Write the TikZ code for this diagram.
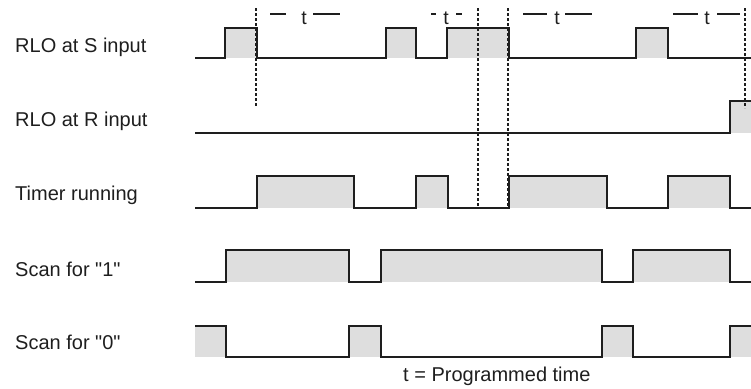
\documentclass[tikz,border=0pt]{standalone}
\usepackage{fontspec}
\setmainfont{Liberation Sans}[Ligatures=TeXOff]
\definecolor{sig}{HTML}{1E1E1E}
\definecolor{shade}{HTML}{DEDEDE}
\begin{document}
\begin{tikzpicture}[x=1pt,y=-1pt,
  wave/.style={draw=sig,line width=1.3pt,line join=miter},
  hi/.style={fill=shade,draw=none},
  guide/.style={draw=sig,line width=1.1pt,dash pattern=on 3pt off 2pt},
  lbl/.style={anchor=base west,inner sep=0pt,font=\fontsize{20}{24}\selectfont,text=sig},
  tlbl/.style={anchor=base,inner sep=0pt,font=\fontsize{19.5}{22}\selectfont,text=sig},
  tdash/.style={draw=sig,line width=1.2pt}]
\useasboundingbox (0,0) rectangle (751,388);
% labels
\node[lbl] (lS) at (15,52) {RLO at S input};
\node[lbl] (lR) at (15,126) {RLO at R input};
\node[lbl] (lT) at (15,200) {Timer running};
\node[lbl] (l1) at (15,276) {Scan for "1"};
\node[lbl] (l0) at (15,349) {Scan for "0"};
\node[lbl] (lt) at (403,381) {t = Programmed time};
% shading
\foreach \a/\b in {225/257,386/416,447/509,636/668} \path[hi] (\a,58) rectangle (\b,28);
\path[hi] (730,133) rectangle (751,101);
\foreach \a/\b in {257/354,416/448,509/607,668/730} \path[hi] (\a,208) rectangle (\b,176);
\foreach \a/\b in {226/349,381/602,633/730} \path[hi] (\a,282) rectangle (\b,250);
\foreach \a/\b in {195/226,349/381,602/633,730/751} \path[hi] (\a,357) rectangle (\b,326);
% guides
\draw[guide] (256,8) -- (256,107);
\draw[guide] (478,8) -- (478,208);
\draw[guide] (508,8) -- (508,208);
\draw[guide] (745,8) -- (745,108);
% waves
\draw[wave] (195,58) -- (225,58) -- (225,28) -- (257,28) -- (257,58) -- (386,58) -- (386,28) -- (416,28) -- (416,58) -- (447,58) -- (447,28) -- (509,28) -- (509,58) -- (636,58) -- (636,28) -- (668,28) -- (668,58) -- (751,58);
\draw[wave] (195,133) -- (730,133) -- (730,101) -- (751,101);
\draw[wave] (195,208) -- (257,208) -- (257,176) -- (354,176) -- (354,208) -- (416,208) -- (416,176) -- (448,176) -- (448,208) -- (509,208) -- (509,176) -- (607,176) -- (607,208) -- (668,208) -- (668,176) -- (730,176) -- (730,208) -- (751,208);
\draw[wave] (195,282) -- (226,282) -- (226,250) -- (349,250) -- (349,282) -- (381,282) -- (381,250) -- (602,250) -- (602,282) -- (633,282) -- (633,250) -- (730,250) -- (730,282) -- (751,282);
\draw[wave] (195,326) -- (226,326) -- (226,357) -- (349,357) -- (349,326) -- (381,326) -- (381,357) -- (602,357) -- (602,326) -- (633,326) -- (633,357) -- (730,357) -- (730,326) -- (751,326);
% t markers
\node[tlbl] (t1) at (304,24) {t};
\draw[tdash] (270,14) -- (286,14) (313,14) -- (340,14);
\node[tlbl] (t2) at (446,24) {t};
\draw[tdash] (431,14) -- (436,14) (456,14) -- (462,14);
\node[tlbl] (t3) at (557,24) {t};
\draw[tdash] (523,14) -- (547,14) (565,14) -- (592,14);
\node[tlbl] (t4) at (707,24) {t};
\draw[tdash] (673,14) -- (698,14) (717,14) -- (740,14);
\end{tikzpicture}
\end{document}
